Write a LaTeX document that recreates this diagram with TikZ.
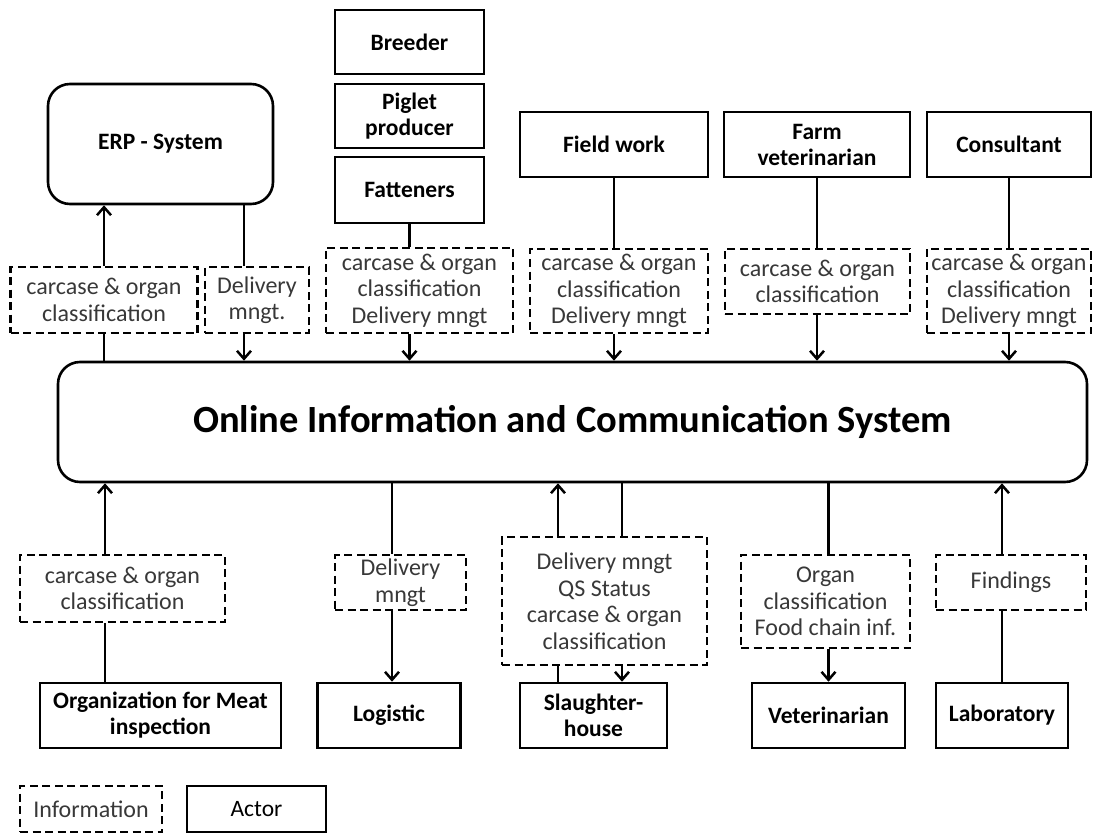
\documentclass[tikz,border=0pt]{standalone}
\usepackage{fontspec}
\setmainfont{Carlito}
\usetikzlibrary{arrows.meta}
\definecolor{infotext}{HTML}{383838}
\begin{document}
\begin{tikzpicture}[x=1pt,y=-1pt,
  actor/.style={draw,line width=2.6pt,inner sep=0pt,align=center,
    font=\fontsize{23.5}{26}\selectfont\bfseries},
  roundactor/.style={actor,rounded corners=22pt},
  info/.style={draw,line width=2.4pt,dash pattern=on 8pt off 4.5pt,inner sep=0pt,
    align=center,text=infotext,font=\fontsize{24}{26.5}\selectfont},
  link/.style={line width=2.5pt},
  flow/.style={link,-{Straight Barb[length=8pt,width=14pt]}},
]
\useasboundingbox (0,0) rectangle (1094,834);

% actors above the system
\node[actor,minimum width=149pt,minimum height=64pt] (breeder) at (409.5,42) {Breeder};
\node[actor,minimum width=149pt,minimum height=64pt] (piglet) at (409.5,116) {Piglet\\producer};
\node[actor,minimum width=149pt,minimum height=66pt] (fatteners) at (409.5,190) {Fatteners};
\node[roundactor,minimum width=225pt,minimum height=120pt] (erp) at (160.5,144) {ERP - System};
\node[actor,minimum width=188pt,minimum height=65pt] (fieldwork) at (614,144.5) {Field work};
\node[actor,minimum width=186pt,minimum height=65pt] (farmvet) at (817,144.5) {Farm\\veterinarian};
\node[actor,minimum width=164pt,minimum height=65pt] (consultant) at (1009,144.5) {Consultant};

% central system
\node[roundactor,minimum width=1029pt,minimum height=120pt,
  font=\fontsize{38.5}{40}\selectfont\bfseries] (main) at (572.5,422)
  {Online Information and Communication System};

% information exchanged above the system
\node[info,minimum width=187pt,minimum height=66pt] (erpinfo) at (104,300) {carcase \& organ\\classification};
\node[info,minimum width=104pt,minimum height=66pt] (delinfo) at (257,300) {Delivery\\mngt.};
\node[info,minimum width=187pt,minimum height=85pt] (fatinfo) at (419.5,290.5) {carcase \& organ\\classification\\Delivery mngt};
\node[info,minimum width=178pt,minimum height=84pt] (fieldinfo) at (619,291) {carcase \& organ\\classification\\Delivery mngt};
\node[info,minimum width=185pt,minimum height=65pt] (farmvetinfo) at (817.5,281.5) {carcase \& organ\\classification};
\node[info,minimum width=164pt,minimum height=84pt] (consinfo) at (1009,291) {carcase \& organ\\classification\\Delivery mngt};

% information exchanged below the system
\node[info,minimum width=205pt,minimum height=67pt] (meatinfo) at (122.5,588.5) {carcase \& organ\\classification};
\node[info,minimum width=131pt,minimum height=55pt] (loginfo) at (400.5,582.5) {Delivery\\mngt};
\node[info,minimum width=205pt,minimum height=128pt] (slinfo) at (604.5,601) {Delivery mngt\\QS Status\\carcase \& organ\\classification};
\node[info,minimum width=169pt,minimum height=93pt] (organinfo) at (825.5,601.5) {Organ\\classification\\Food chain inf.};
\node[info,minimum width=150pt,minimum height=55pt] (findings) at (1011,582.5) {Findings};

% actors below the system
\node[actor,minimum width=241pt,minimum height=65pt] (org) at (160.5,715.5) {Organization for Meat\\inspection};
\node[actor,minimum width=143.5pt,minimum height=65pt] (logistic) at (389,715.5) {Logistic};
\node[actor,minimum width=147pt,minimum height=65pt] (slaughter) at (593.5,715.5) {Slaughter-\\house};
\node[actor,minimum width=153pt,minimum height=65pt] (vet) at (828.5,715.5) {Veterinarian};
\node[actor,minimum width=132pt,minimum height=65pt] (lab) at (1002,715.5) {Laboratory};

% legend
\node[info,minimum width=142pt,minimum height=46pt] (leginfo) at (91,809) {Information};
\node[actor,minimum width=139pt,minimum height=46pt,font=\fontsize{23.5}{26}\selectfont] (legactor) at (256.5,809) {Actor};

% vertical positions of off-centre connectors
\coordinate (xdel) at (244,0);
\coordinate (xmeat) at (105,0);
\coordinate (xlog) at (392,0);
\coordinate (xsla) at (558,0);
\coordinate (xslb) at (622,0);

% upper connectors
\draw[flow] (erpinfo.north) -- (erp.south -| erpinfo.north);
\draw[link] (main.north -| erpinfo.south) -- (erpinfo.south);
\draw[link] (erp.south -| xdel) -- (delinfo.north -| xdel);
\draw[flow] (delinfo.south -| xdel) -- (main.north -| xdel);
\draw[link] (fatteners.south) -- (fatinfo.north -| fatteners.south);
\draw[flow] (fatinfo.south -| fatteners.south) -- (main.north -| fatteners.south);
\draw[link] (fieldwork.south) -- (fieldinfo.north -| fieldwork.south);
\draw[flow] (fieldinfo.south -| fieldwork.south) -- (main.north -| fieldwork.south);
\draw[link] (farmvet.south) -- (farmvetinfo.north -| farmvet.south);
\draw[flow] (farmvetinfo.south -| farmvet.south) -- (main.north -| farmvet.south);
\draw[link] (consultant.south) -- (consinfo.north -| consultant.south);
\draw[flow] (consinfo.south -| consultant.south) -- (main.north -| consultant.south);

% lower connectors
\draw[link] (org.north -| xmeat) -- (meatinfo.south -| xmeat);
\draw[flow] (meatinfo.north -| xmeat) -- (main.south -| xmeat);
\draw[link] (main.south -| xlog) -- (loginfo.north -| xlog);
\draw[flow] (loginfo.south -| xlog) -- (logistic.north -| xlog);
\draw[link] (slaughter.north -| xsla) -- (slinfo.south -| xsla);
\draw[flow] (slinfo.north -| xsla) -- (main.south -| xsla);
\draw[link] (main.south -| xslb) -- (slinfo.north -| xslb);
\draw[flow] (slinfo.south -| xslb) -- (slaughter.north -| xslb);
\draw[link] (main.south -| vet.north) -- (organinfo.north -| vet.north);
\draw[flow] (organinfo.south -| vet.north) -- (vet.north);
\draw[link] (lab.north) -- (findings.south -| lab.north);
\draw[flow] (findings.north -| lab.north) -- (main.south -| lab.north);
\end{tikzpicture}
\end{document}
